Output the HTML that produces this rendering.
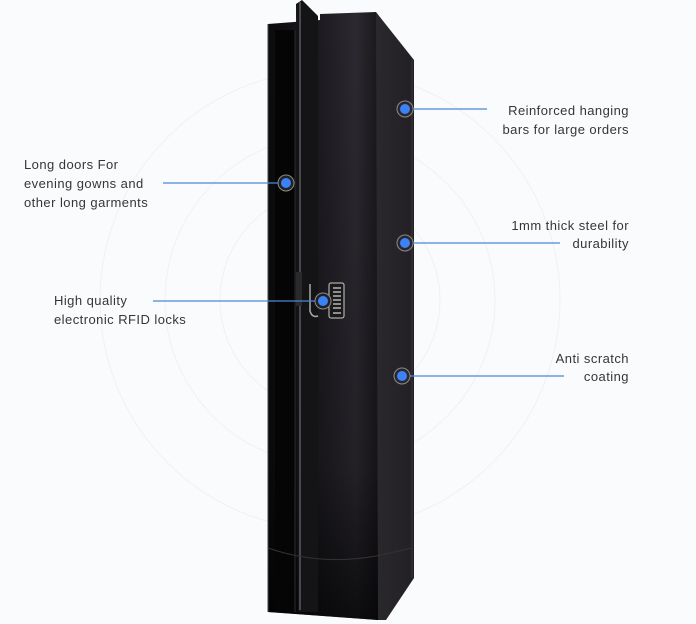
<!DOCTYPE html>
<html><head><meta charset="utf-8"><style>
html,body{margin:0;padding:0;background:#fafbfc;}
svg{display:block}
text{font-family:"Liberation Sans",sans-serif;font-size:13px;letter-spacing:0.45px;fill:#363636;}
</style></head><body>
<svg width="696" height="624" viewBox="0 0 696 624" xmlns="http://www.w3.org/2000/svg">
<defs>
<linearGradient id="fr" x1="0" x2="1" y1="0" y2="0">
<stop offset="0" stop-color="#0b0a0d"/><stop offset="0.45" stop-color="#1c1a20"/><stop offset="0.8" stop-color="#2c2930"/><stop offset="1" stop-color="#1a181c"/>
</linearGradient>
<linearGradient id="fv" x1="0" x2="0" y1="0" y2="1">
<stop offset="0" stop-color="#000" stop-opacity="0"/><stop offset="0.75" stop-color="#000" stop-opacity="0.2"/><stop offset="1" stop-color="#000" stop-opacity="0.7"/>
</linearGradient>
<linearGradient id="sd" x1="0" x2="1"><stop offset="0" stop-color="#2a282c"/><stop offset="1" stop-color="#222024"/></linearGradient>
</defs>
<rect width="696" height="624" fill="#fafbfc"/>
<g fill="none" stroke="#f0f1f4" stroke-width="1">
<circle cx="330" cy="300" r="110"/><circle cx="330" cy="300" r="165"/><circle cx="330" cy="300" r="230"/>
</g>
<polygon points="376,12 414,60 414,578 386,620 376,620" fill="url(#sd)"/>
<line x1="412" y1="60" x2="412" y2="578" stroke="#3a383c"/>
<polygon points="268,24 320,20 320,14 376,12 378,620 268,612" fill="url(#fr)"/>
<polygon points="268,24 320,20 320,14 376,12 378,620 268,612" fill="url(#fv)"/>
<rect x="275" y="30" width="20" height="582" fill="#050506"/>
<line x1="268" y1="24" x2="268" y2="612" stroke="#444" stroke-width="1"/>
<polygon points="296,4 302,0 318,16 318,612 298,612" fill="#141316"/>
<line x1="300" y1="2" x2="300" y2="610" stroke="#4a484d" stroke-width="2"/>
<line x1="295" y1="30" x2="295" y2="612" stroke="#2a292c"/>
<path d="M268 548 Q320 566 376 556 L412 548" fill="none" stroke="#333" stroke-width="1"/>
<rect x="296" y="272" width="6" height="34" fill="#2a292c"/>
<path d="M310 284 L310 311 Q312 318 318 316" fill="none" stroke="#aaa" stroke-width="1.5"/>
<rect x="329" y="283" width="15" height="35" rx="2" fill="#1a1a1a" stroke="#ccc"/>
<g stroke="#ddd" stroke-width="1.2"><line x1="333" y1="288" x2="341" y2="288"/><line x1="333" y1="292" x2="341" y2="292"/><line x1="333" y1="296" x2="341" y2="296"/><line x1="333" y1="300" x2="341" y2="300"/><line x1="333" y1="304" x2="341" y2="304"/><line x1="333" y1="308" x2="341" y2="308"/><line x1="333" y1="313" x2="341" y2="313"/></g>
<g stroke="#4a86d8" stroke-width="1.3">
<line x1="163" y1="183" x2="286" y2="183"/>
<line x1="153" y1="301" x2="323" y2="301"/>
<line x1="405" y1="109" x2="487" y2="109"/>
<line x1="405" y1="243" x2="560" y2="243"/>
<line x1="402" y1="376" x2="564" y2="376"/>
</g>
<g>
<g transform="translate(286,183)"><circle r="8" fill="#222" stroke="#8a8a8e"/><circle r="5" fill="#3b82f6"/></g>
<g transform="translate(323,301)"><circle r="8" fill="#222" stroke="#8a8a8e"/><circle r="5" fill="#3b82f6"/></g>
<g transform="translate(405,109)"><circle r="8" fill="#2a282c" stroke="#8a8a8e"/><circle r="5" fill="#3b82f6"/></g>
<g transform="translate(405,243)"><circle r="8" fill="#2a282c" stroke="#8a8a8e"/><circle r="5" fill="#3b82f6"/></g>
<g transform="translate(402,376)"><circle r="8" fill="#2a282c" stroke="#8a8a8e"/><circle r="5" fill="#3b82f6"/></g>
</g>
<text x="24" y="169">Long doors For</text>
<text x="24" y="188">evening gowns and</text>
<text x="24" y="207">other long garments</text>
<text x="54" y="305">High quality</text>
<text x="54" y="324">electronic RFID locks</text>
<g text-anchor="end">
<text x="629" y="115">Reinforced hanging</text>
<text x="629" y="134">bars for large orders</text>
<text x="629" y="230">1mm thick steel for</text>
<text x="629" y="248">durability</text>
<text x="629" y="363">Anti scratch</text>
<text x="629" y="381">coating</text>
</g>
</svg>
</body></html>
